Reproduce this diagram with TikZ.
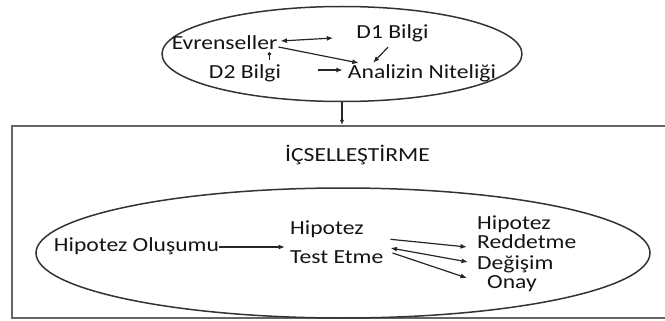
\documentclass[tikz,border=0pt]{standalone}
\usepackage{fontspec}
\setmainfont{Carlito}[FakeStretch=1.18]
\usetikzlibrary{shapes.geometric,arrows.meta}
\begin{document}
\begin{tikzpicture}[x=1pt,y=-1pt,
  txt/.style={inner sep=0pt,text height=13pt,text depth=0pt,text=black!92,font=\fontsize{20}{20}\selectfont},
  arr/.style={draw=black!85,line width=1.2pt,-{Latex[length=6.5pt,width=5pt]}},
  barr/.style={draw=black!85,line width=1.2pt,{Latex[length=6.5pt,width=5pt]}-{Latex[length=6.5pt,width=5pt]}},
  ell/.style={draw=black!80,line width=1.5pt,ellipse,inner sep=0pt},
  boxst/.style={draw=black!60,line width=2pt,inner sep=0pt}]
\useasboundingbox (0,0) rectangle (665,321);
% frames
\node[boxst,minimum width=656pt,minimum height=192pt] (box) at (340,222) {};
\node[ell,minimum width=360pt,minimum height=95pt] (topell) at (342,54) {};
\node[ell,minimum width=614pt,minimum height=130pt] (inell) at (343,253) {};
% top texts
\node[txt] (ev) at (224.5,43) {Evrenseller};
\node[txt] (d1) at (392.5,32) {D1 Bilgi};
\node[txt] (d2) at (245,72) {D2 Bilgi};
\node[txt] (an) at (422,72) {Analizin Niteliği};
% top connectors
\draw[barr] ([xshift=3pt,yshift=2pt]ev.east) -- ([xshift=-23pt,yshift=-6pt]d1.west);
\draw[arr] ([xshift=1pt,yshift=-4pt]ev.east) -- ([xshift=11pt,yshift=9pt]an.west);
\draw[arr] ([xshift=-4.5pt,yshift=-8.5pt]d1.south) -- ([xshift=-49pt,yshift=2.5pt]an.north);
\coordinate (evd) at ([xshift=-8pt,yshift=-2.5pt]ev.south east);
\draw[draw=black!85,line width=1.2pt,{Circle[length=3.5pt]}-] (evd) -- ([yshift=5.5pt]evd |- d2.north);
\draw[arr] ([xshift=37pt,yshift=2pt]d2.east) -- ([xshift=-5pt,yshift=2pt]an.west);
% link between ellipse and box
\draw[arr,-{Latex[length=5pt,width=4pt]}] (topell.south) -- (topell.south |- box.north);
% box title
\node[txt] (title) at (357.5,155) {İÇSELLEŞTİRME};
% inner texts
\node[txt] (ho) at (136.5,245) {Hipotez Oluşumu};
\node[txt,anchor=west] (hyp1) at (290,228) {Hipotez};
\node[txt,anchor=west] (test) at (290,257) {Test Etme};
\node[txt,anchor=west] (hyp2) at (477,223) {Hipotez};
\node[txt,anchor=west] (red) at (477,242) {Reddetme};
\node[txt,anchor=west] (deg) at (477,263) {Değişim};
\node[txt,anchor=west] (onay) at (487,282) {Onay};
% inner connectors
\draw[arr] ([yshift=-2pt]ho.east) -- ([yshift=-2pt,xshift=-5pt]ho.east -| test.west);
\draw[arr] ([xshift=7pt,yshift=11pt]test.north east) -- ([xshift=-10pt,yshift=-5pt]red.west);
\draw[barr] ([xshift=7pt,yshift=9pt]test.east) -- ([xshift=-9pt,yshift=1pt]deg.west);
\draw[arr] ([xshift=9pt,yshift=4pt]test.east) -- ([xshift=-20pt,yshift=4pt]onay.west);
\end{tikzpicture}
\end{document}
